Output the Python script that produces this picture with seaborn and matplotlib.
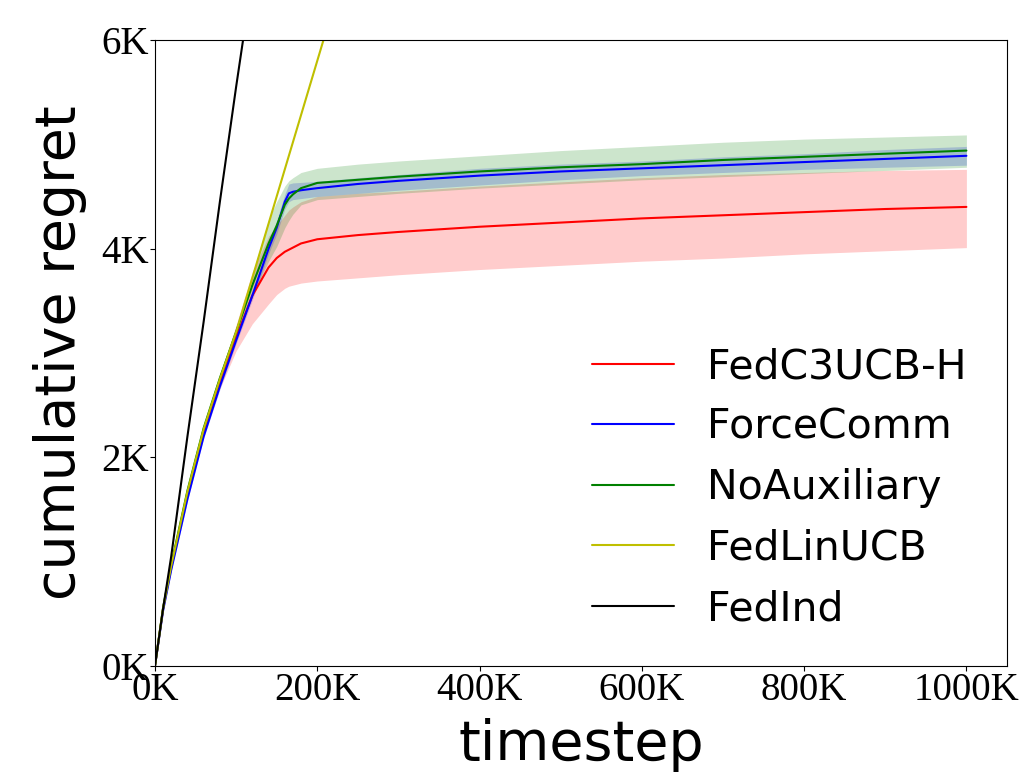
import numpy as np
import pandas as pd
import matplotlib
matplotlib.use("Agg")
import matplotlib.pyplot as plt
import seaborn as sns
from matplotlib.ticker import FuncFormatter, MultipleLocator

# timesteps in thousands, regret in thousands
timestep = [0, 10, 20, 40, 60, 80, 100, 120, 140, 150, 160, 165, 170, 180, 200,
            250, 300, 400, 500, 600, 700, 800, 900, 1000]

fedc3ucb_h = [0, 0.55, 0.95, 1.65, 2.24, 2.72, 3.15, 3.55, 3.82, 3.91, 3.97, 3.99, 4.01, 4.05, 4.09,
              4.13, 4.16, 4.21, 4.25, 4.29, 4.32, 4.35, 4.38, 4.40]
fedc3ucb_h_lo = [0, 0.54, 0.93, 1.62, 2.20, 2.66, 3.02, 3.28, 3.47, 3.56, 3.62, 3.64, 3.65, 3.67, 3.69,
                 3.72, 3.75, 3.80, 3.84, 3.88, 3.91, 3.95, 3.98, 4.01]
fedc3ucb_h_hi = [0, 0.56, 0.97, 1.68, 2.28, 2.78, 3.27, 3.78, 4.12, 4.22, 4.32, 4.37, 4.40, 4.45, 4.50,
                 4.53, 4.55, 4.60, 4.64, 4.68, 4.71, 4.73, 4.75, 4.76]

forcecomm = [0, 0.53, 0.92, 1.60, 2.20, 2.68, 3.12, 3.55, 4.00, 4.20, 4.45, 4.53, 4.545, 4.56, 4.58,
             4.62, 4.65, 4.70, 4.74, 4.77, 4.80, 4.83, 4.86, 4.89]
forcecomm_lo = [0, 0.52, 0.91, 1.58, 2.18, 2.65, 3.09, 3.51, 3.95, 4.14, 4.38, 4.45, 4.47, 4.48, 4.50,
                4.53, 4.56, 4.61, 4.66, 4.70, 4.73, 4.76, 4.78, 4.80]
forcecomm_hi = [0, 0.54, 0.93, 1.62, 2.22, 2.71, 3.15, 3.59, 4.05, 4.27, 4.52, 4.62, 4.63, 4.635, 4.645,
                4.68, 4.71, 4.77, 4.81, 4.84, 4.88, 4.91, 4.95, 4.98]

noauxiliary = [0, 0.56, 0.97, 1.68, 2.28, 2.76, 3.20, 3.65, 4.05, 4.22, 4.42, 4.48, 4.52, 4.58, 4.63,
               4.66, 4.69, 4.74, 4.78, 4.81, 4.85, 4.88, 4.91, 4.94]
noauxiliary_lo = [0, 0.55, 0.95, 1.66, 2.25, 2.72, 3.15, 3.55, 3.88, 4.02, 4.20, 4.27, 4.33, 4.42, 4.47,
                  4.50, 4.53, 4.58, 4.62, 4.66, 4.69, 4.72, 4.75, 4.78]
noauxiliary_hi = [0, 0.57, 0.99, 1.70, 2.31, 2.80, 3.26, 3.76, 4.28, 4.45, 4.60, 4.65, 4.68, 4.73, 4.77,
                  4.81, 4.84, 4.89, 4.94, 4.98, 5.02, 5.05, 5.07, 5.09]

fedlinucb = [0, 0.55, 0.96, 1.67, 2.27, 2.75, 3.20, 3.72, 4.24, 4.50, 4.76, 4.89, 5.02, 5.28, 5.80,
             7.10, np.nan, np.nan, np.nan, np.nan, np.nan, np.nan, np.nan, np.nan]
fedind = [0, 0.55, 1.05, 2.20, 3.30, 4.45, 5.55, 6.60, np.nan, np.nan, np.nan, np.nan, np.nan, np.nan, np.nan,
          np.nan, np.nan, np.nan, np.nan, np.nan, np.nan, np.nan, np.nan, np.nan]

methods = ["FedC3UCB-H", "ForceComm", "NoAuxiliary", "FedLinUCB", "FedInd"]
colors = {"FedC3UCB-H": "r", "ForceComm": "b", "NoAuxiliary": "g", "FedLinUCB": "y", "FedInd": "k"}

df = pd.DataFrame({"timestep": timestep,
                   "FedC3UCB-H": fedc3ucb_h,
                   "ForceComm": forcecomm,
                   "NoAuxiliary": noauxiliary,
                   "FedLinUCB": fedlinucb,
                   "FedInd": fedind})
long_df = df.melt(id_vars="timestep", var_name="method", value_name="regret").dropna()

bands = {"FedC3UCB-H": (fedc3ucb_h_lo, fedc3ucb_h_hi),
         "ForceComm": (forcecomm_lo, forcecomm_hi),
         "NoAuxiliary": (noauxiliary_lo, noauxiliary_hi)}

sns.set_style("white")
plt.rcParams["font.family"] = ["DejaVu Sans"]
plt.rcParams.update({"text.color": "black", "axes.labelcolor": "black",
                     "xtick.color": "black", "ytick.color": "black"})

fig, ax = plt.subplots(figsize=(10.29, 7.84), dpi=100)
sns.lineplot(data=long_df, x="timestep", y="regret", hue="method", hue_order=methods,
             palette=colors, linewidth=1.5, ax=ax)

for name, (lo, hi) in bands.items():
    ax.fill_between(timestep, lo, hi, color=colors[name], alpha=0.2, linewidth=0)

ax.set_xlim(0, 1050)
ax.set_ylim(0, 6)
ax.xaxis.set_major_locator(MultipleLocator(200))
ax.yaxis.set_major_locator(MultipleLocator(2))
ax.xaxis.set_major_formatter(FuncFormatter(lambda v, p: f"{v:.0f}K"))
ax.yaxis.set_major_formatter(FuncFormatter(lambda v, p: f"{v:.0f}K"))
ax.tick_params(axis="both", which="major", length=3.5, width=0.8, direction="out",
               bottom=True, left=True, labelsize=28, pad=1)
for lbl in ax.get_xticklabels() + ax.get_yticklabels():
    lbl.set_family("Liberation Serif")

for s in ax.spines.values():
    s.set_color("black")
    s.set_linewidth(0.8)

ax.set_xlabel("timestep", fontsize=40, labelpad=6)
ax.set_ylabel("cumulative regret", fontsize=40, labelpad=10)

leg = ax.legend(loc="lower right", frameon=False, fontsize=29.5,
                bbox_to_anchor=(0.996, 0.0))
for line in leg.get_lines():
    line.set_linewidth(1.5)

fig.subplots_adjust(left=0.1506, right=0.9786, top=0.949, bottom=0.1505)
fig.savefig("out.png", dpi=100)
